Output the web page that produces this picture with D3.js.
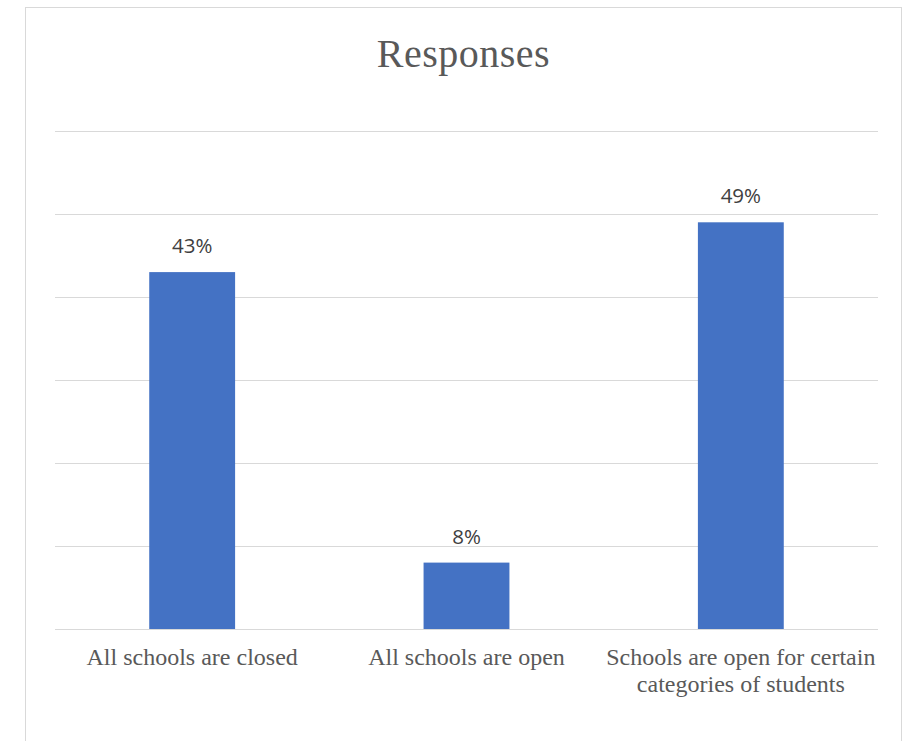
<!DOCTYPE html>
<html><head><meta charset="utf-8">
<script src="https://cdn.jsdelivr.net/npm/d3@7"></script>
<style>body{margin:0;background:#fff}</style>
</head><body><svg id="c" width="903" height="741"></svg>
<script>
const categories = ["All schools are closed", "All schools are open", "Schools are open for certain categories of students"];
const categoryLines = [["All schools are closed"], ["All schools are open"], ["Schools are open for certain", "categories of students"]];
const values = [0.43, 0.08, 0.49];
const valueLabels = ["43%", "8%", "49%"];
const yTicks = [0, 0.1, 0.2, 0.3, 0.4, 0.5, 0.6];

(function() {
const svg = d3.select("#c");
svg.append("rect").attr("x", 25.5).attr("y", 7.5).attr("width", 876).attr("height", 760)
  .attr("fill", "#fff").attr("stroke", "#d9d9d9").attr("stroke-width", 1);

const pl = 55, pr = 878, pt = 131, pb = 629;
const x = d3.scaleBand().domain(categories).range([pl, pr]).paddingInner(0.687).paddingOuter(0.3435);
const y = d3.scaleLinear().domain([0, 0.6]).range([pb, pt]);

svg.append("g").selectAll("line").data(yTicks).join("line")
  .attr("x1", pl).attr("x2", pr)
  .attr("y1", d => Math.round(y(d)) + 0.5).attr("y2", d => Math.round(y(d)) + 0.5)
  .attr("stroke", "#d9d9d9").attr("stroke-width", 1.2);

svg.append("g").selectAll("rect").data(values).join("rect")
  .attr("x", (d, i) => x(categories[i])).attr("width", x.bandwidth())
  .attr("y", d => y(d)).attr("height", d => y(0) - y(d))
  .attr("fill", "#4472c4");

svg.append("g").selectAll("text").data(values).join("text")
  .attr("x", (d, i) => x(categories[i]) + x.bandwidth() / 2)
  .attr("y", d => y(d) - 19)
  .attr("text-anchor", "middle")
  .attr("font-family", "Open Sans, sans-serif").attr("font-size", 20.5)
  .attr("fill", "#404040")
  .text((d, i) => valueLabels[i]);

const lab = svg.append("g").selectAll("text").data(categories).join("text")
  .attr("x", d => x(d) + x.bandwidth() / 2)
  .attr("y", 665)
  .attr("text-anchor", "middle")
  .attr("font-family", "Liberation Serif, Times New Roman, serif").attr("font-size", 24)
  .attr("fill", "#595959");
lab.each(function(d, i) {
  d3.select(this).selectAll("tspan").data(categoryLines[i]).join("tspan")
    .attr("x", x(d) + x.bandwidth() / 2)
    .attr("dy", (t, j) => j === 0 ? 0 : 27)
    .text(t => t);
});

svg.append("text").attr("x", 463.5).attr("y", 67).attr("text-anchor", "middle")
  .attr("font-family", "Liberation Serif, Times New Roman, serif").attr("font-size", 40)
  .attr("letter-spacing", 0.5)
  .attr("fill", "#595959").text("Responses");
})();
</script></body></html>
